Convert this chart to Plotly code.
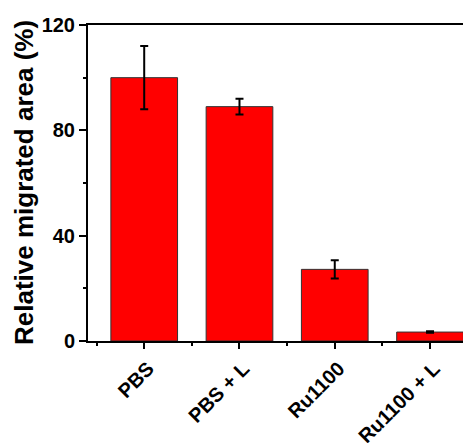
import plotly.graph_objects as go

categories = ["PBS", "PBS + L", "Ru1100", "Ru1100 + L"]
values = [100.0, 89.0, 27.2, 3.4]
errors = [12.0, 3.0, 3.5, 0.3]
y_ticks = [0, 40, 80, 120]

fig = go.Figure()
fig.add_trace(go.Bar(
    x=list(range(len(categories))), y=values,
    width=0.7,
    marker=dict(color="#ff0000", line=dict(color="#333333", width=1)),
    error_y=dict(type="data", array=errors, visible=True, color="black", thickness=2, width=4),
))

fig.update_layout(
    width=463, height=435,
    margin=dict(l=80, r=0, t=17, b=102),
    plot_bgcolor="white", paper_bgcolor="white",
    showlegend=False,
    font=dict(family="Arial, Liberation Sans, sans-serif", color="black"),
    xaxis=dict(
        range=[-0.59, 3.43], automargin=False,
        tickvals=list(range(len(categories))), ticktext=[f"<b>{c}</b>" for c in categories],
        tickangle=-45, tickfont=dict(size=20), ticklabelshift=4,
        showline=True, linecolor="black", linewidth=2, mirror=True,
        ticks="outside", ticklen=6, tickwidth=2, tickcolor="black",
        minor=dict(tickvals=[-0.5, 0.5, 1.5, 2.5], ticks="outside", ticklen=3, tickwidth=2, tickcolor="black"),
        showgrid=False, zeroline=False,
    ),
    yaxis=dict(
        range=[0, 120], automargin=False,
        tickvals=y_ticks, ticktext=[f"<b>{v}</b>" for v in y_ticks],
        tickfont=dict(size=20),
        showline=True, linecolor="black", linewidth=2,
        ticks="outside", ticklen=7, tickwidth=2, tickcolor="black",
        minor=dict(tickvals=[20, 60, 100], ticks="outside", ticklen=3, tickwidth=2, tickcolor="black"),
        showgrid=False, zeroline=False,
    ),
    annotations=[dict(
        text="<b>Relative migrated area (%)</b>", textangle=-90,
        xref="paper", yref="paper", x=-0.167, y=0.5, xanchor="center", yanchor="middle",
        showarrow=False, font=dict(size=26),
    )],
)
fig.write_html("out.html")
